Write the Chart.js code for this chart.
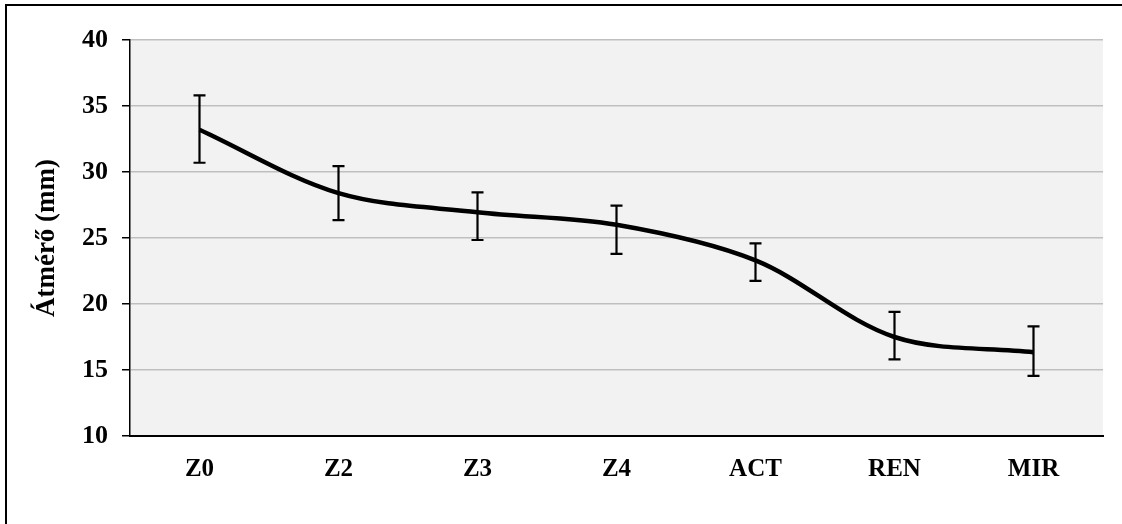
<!DOCTYPE html>
<html>
<head>
<meta charset="utf-8">
<script src="https://cdn.jsdelivr.net/npm/chart.js@4"></script>
<style>
  html, body { margin: 0; padding: 0; background: #fff; overflow: hidden; }
  .frame { position: absolute; left: 5px; top: 4px; width: 1200px; height: 600px; border: 2px solid #000; }
  .wrap { position: absolute; left: 0; top: 0; width: 1122px; height: 524px; }
</style>
</head>
<body>
<div class="frame"></div>
<div class="wrap"><canvas id="lineChart"></canvas></div>
<script>
// data
const categories = ['Z0', 'Z2', 'Z3', 'Z4', 'ACT', 'REN', 'MIR'];
const meanValues = [33.2, 28.4, 26.95, 26.0, 23.3, 17.5, 16.35];
const errorPlus = [2.6, 2.05, 1.5, 1.45, 1.3, 1.9, 1.95];
const errorMinus = [2.5, 2.05, 2.1, 2.2, 1.55, 1.7, 1.8];
const yTicks = [10, 15, 20, 25, 30, 35, 40];

const serif = '"Liberation Serif", "Times New Roman", serif';

// grey plot background
const plotBackground = {
  id: 'plotBackground',
  beforeDraw(chart) {
    const { ctx, chartArea } = chart;
    ctx.save();
    ctx.fillStyle = '#f2f2f2';
    ctx.fillRect(chartArea.left, chartArea.top, chartArea.right - chartArea.left, chartArea.bottom - chartArea.top);
    ctx.restore();
  }
};

// error bars from the scales
const errorBars = {
  id: 'errorBars',
  afterDatasetsDraw(chart) {
    const { ctx } = chart;
    const xScale = chart.scales.x;
    const yScale = chart.scales.y;
    ctx.save();
    ctx.strokeStyle = '#000';
    ctx.lineWidth = 2.2;
    meanValues.forEach((v, i) => {
      const x = xScale.getPixelForValue(i);
      const yTop = yScale.getPixelForValue(v + errorPlus[i]);
      const yBot = yScale.getPixelForValue(v - errorMinus[i]);
      ctx.beginPath();
      ctx.moveTo(x, yTop);
      ctx.lineTo(x, yBot);
      ctx.moveTo(x - 6, yTop);
      ctx.lineTo(x + 6, yTop);
      ctx.moveTo(x - 6, yBot);
      ctx.lineTo(x + 6, yBot);
      ctx.stroke();
    });
    ctx.restore();
  }
};

const ctx = document.getElementById('lineChart');

new Chart(ctx, {
  type: 'line',
  data: {
    labels: categories,
    datasets: [{
      data: meanValues,
      borderColor: '#000',
      borderWidth: 4.5,
      pointRadius: 0,
      tension: 0.33,
      fill: false
    }]
  },
  options: {
    responsive: true,
    maintainAspectRatio: false,
    animation: false,
    layout: { padding: { top: 40, right: 19, bottom: 0, left: 0 } },
    plugins: {
      legend: { display: false },
      tooltip: { enabled: false }
    },
    scales: {
      x: {
        offset: true,
        grid: { display: false, drawTicks: false },
        border: { color: '#000', width: 2 },
        ticks: {
          color: '#000',
          padding: 19,
          font: { family: serif, size: 25, weight: 'bold' }
        },
        afterFit(scale) { scale.height = 88; }
      },
      y: {
        min: 10,
        max: 40,
        afterBuildTicks(scale) { scale.ticks = yTicks.map(v => ({ value: v })); },
        grid: { color: '#bfbfbf', lineWidth: 1.5, tickColor: '#000', tickLength: 8 },
        border: { color: '#000', width: 1.5 },
        ticks: {
          color: '#000',
          padding: 14,
          font: { family: serif, size: 26, weight: 'bold' }
        },
        title: {
          display: true,
          text: 'Átmérő (mm)',
          color: '#000',
          padding: { top: 31, bottom: 0 },
          font: { family: serif, size: 27, weight: 'bold' }
        },
        afterFit(scale) { scale.width = 130; }
      }
    }
  },
  plugins: [plotBackground, errorBars]
});
</script>
</body>
</html>
